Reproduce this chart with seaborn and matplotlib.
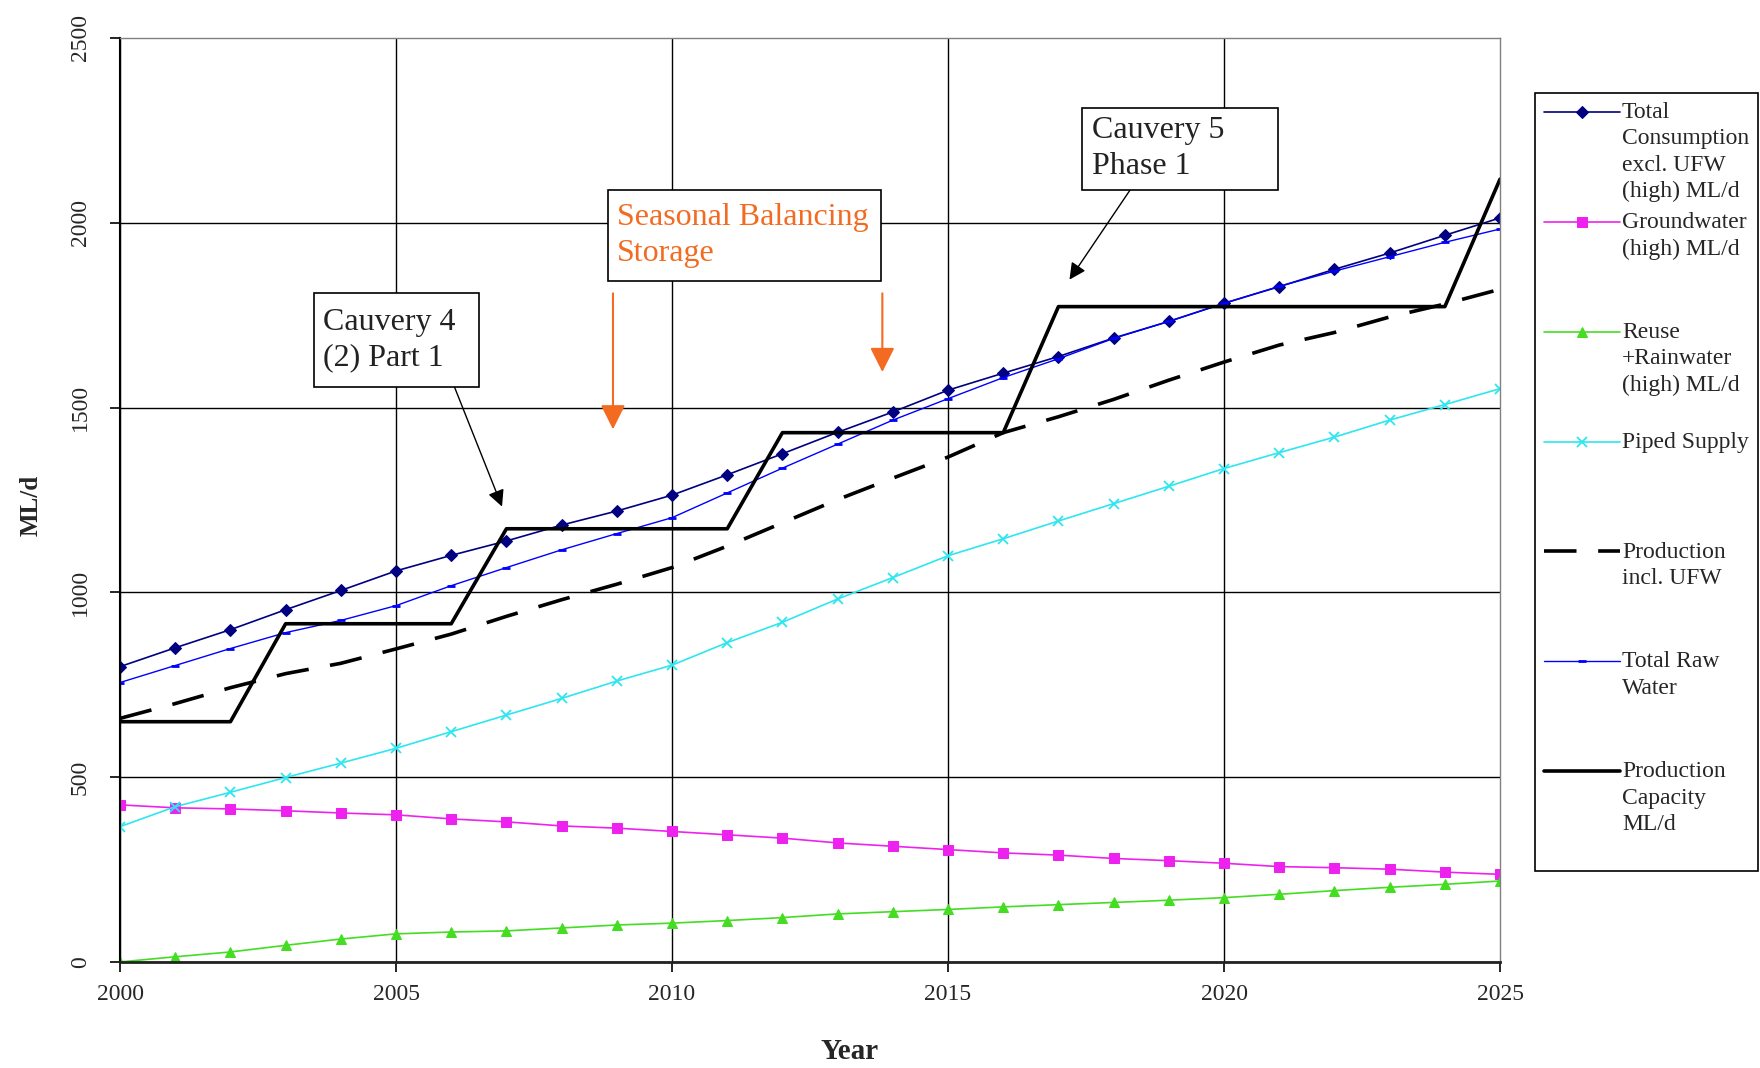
import matplotlib
matplotlib.use("Agg")
import matplotlib.pyplot as plt
from matplotlib.patches import Rectangle
import seaborn as sns

years = list(range(2000, 2026))

consumption = [799, 850, 899, 953, 1005, 1058, 1100, 1139, 1182, 1220, 1263, 1318, 1375,
               1433, 1488, 1547, 1593, 1638, 1688, 1733, 1782, 1827, 1874, 1918, 1966, 2013]
groundwater = [425, 417, 414, 409, 403, 398, 387, 379, 368, 362, 353, 344, 335,
               322, 313, 304, 295, 289, 280, 274, 267, 258, 255, 251, 243, 237]
reuse = [0, 14, 27, 45, 62, 76, 81, 84, 92, 100, 105, 112, 120,
         130, 136, 142, 149, 155, 161, 167, 174, 183, 193, 202, 210, 219]
piped = [366, 420, 459, 499, 538, 578, 623, 668, 713, 760, 803, 864, 919,
         982, 1040, 1099, 1145, 1193, 1240, 1287, 1335, 1378, 1420, 1466, 1508, 1551]
production_ufw = [659, 699, 742, 780, 808, 847, 887, 935, 980, 1022, 1067, 1125, 1188,
                  1251, 1309, 1366, 1432, 1475, 1522, 1574, 1623, 1669, 1703, 1745, 1780, 1820]
raw_water = [756, 802, 848, 891, 924, 964, 1018, 1067, 1115, 1159, 1202, 1269, 1336,
             1401, 1466, 1524, 1581, 1632, 1687, 1733, 1782, 1828, 1869, 1908, 1947, 1983]
capacity = [650, 650, 650, 915, 915, 915, 915, 1172, 1172, 1172, 1172, 1172, 1432,
            1432, 1432, 1432, 1432, 1773, 1773, 1773, 1773, 1773, 1773, 1773, 1773, 2118]

labels = ["Total\nConsumption\nexcl. UFW\n(high) ML/d",
          "Groundwater\n(high) ML/d",
          "Reuse\n+Rainwater\n(high) ML/d",
          "Piped Supply",
          "Production\nincl. UFW",
          "Total Raw\nWater",
          "Production\nCapacity\nML/d"]

orange = "#F26B21"

sns.set_theme(style="white")
plt.rcParams["font.family"] = ["Liberation Serif", "DejaVu Serif"]

fig = plt.figure(figsize=(17.6, 10.68), dpi=100)
ax = fig.add_axes([0.0682, 0.0993, 0.7841, 0.8652])

styles = [
    dict(color="#000080", lw=1.2, marker="D", ms=6.5, mec="#000080"),
    dict(color="#EE22EE", lw=1.2, marker="s", ms=7, mec="#EE22EE"),
    dict(color="#44DD22", lw=1.2, marker="^", ms=7, mec="#44DD22"),
    dict(color="#2EE6F0", lw=1.2, marker="x", ms=7, mew=1.3, mec="#2EE6F0"),
    dict(color="black", lw=2.6, linestyle=(0, (9, 6))),
    dict(color="#0000FF", lw=1.0, marker="_", ms=6, mew=2, mec="#0000FF"),
    dict(color="black", lw=2.6),
]
values = [consumption, groundwater, reuse, piped, production_ufw, raw_water, capacity]

for lab, vals, st in zip(labels, values, styles):
    sns.lineplot(x=years, y=vals, ax=ax, label=lab, **st)

handles, labs = ax.get_legend_handles_labels()
ax.get_legend().remove()

ax.set_xlim(2000, 2025)
ax.set_ylim(0, 2500)
ax.set_xticks(range(2000, 2026, 5))
ax.set_yticks(range(0, 2501, 500))

ax.grid(True, color="black", lw=1)
ax.xaxis.get_gridlines()[-1].set_visible(False)
ax.yaxis.get_gridlines()[-1].set_visible(False)

for side in ["top", "right"]:
    ax.spines[side].set_color("#808080")
    ax.spines[side].set_linewidth(1)
ax.spines["left"].set_color("black")
ax.spines["left"].set_linewidth(1.5)
ax.spines["bottom"].set_color("#222222")
ax.spines["bottom"].set_linewidth(2)

ax.tick_params(axis="both", which="major", direction="out", length=7, width=1.2,
               color="black", labelsize=17, bottom=True, left=True)
ax.tick_params(axis="y", pad=14)
ax.tick_params(axis="x", pad=9)
for t in ax.get_yticklabels():
    t.set_rotation(90)
    t.set_va("center")

ax.set_xlabel("Year", fontsize=21, fontweight="bold", va="center")
ax.xaxis.set_label_coords(0.529, -0.097)
ax.set_ylabel("ML/d", fontsize=18, fontweight="bold", va="center")
ax.yaxis.set_label_coords(-0.0645, 0.4935)

# annotation boxes (x0, x1, y_bottom, y_top) in data units
boxes = [
    ("Cauvery 4\n(2) Part 1", (2003.51, 2006.50, 1555, 1809), 2003.68, "#222222"),
    ("Seasonal Balancing\nStorage", (2008.84, 2013.79, 1842, 2088), 2009.0, orange),
    ("Cauvery 5\nPhase 1", (2017.43, 2020.97, 2089, 2311), 2017.60, "#222222"),
]
for txt, (x0, x1, y0, y1), tx, col in boxes:
    ax.add_patch(Rectangle((x0, y0), x1 - x0, y1 - y0, fc="white", ec="black",
                           lw=1.2, zorder=4))
    ax.text(tx, (y0 + y1) / 2, txt, color=col, fontsize=23, ha="left", va="center",
            linespacing=1.3, zorder=5)

arrow = dict(arrowstyle="-|>", color="black", lw=1, mutation_scale=25, shrinkA=0, shrinkB=0)
ax.annotate("", xy=(2006.92, 1232), xytext=(2006.06, 1555), arrowprops=arrow)
ax.annotate("", xy=(2017.20, 1846), xytext=(2018.30, 2089), arrowprops=arrow)
for xa, ya in [(2008.93, 1441), (2013.81, 1596)]:
    ax.annotate("", xy=(xa, ya), xytext=(xa, 1809),
                arrowprops=dict(arrowstyle="-|>,head_length=0.6,head_width=0.3", color=orange,
                                lw=1.5, mutation_scale=25, shrinkA=0, shrinkB=0))

# legend: every entry four lines tall, handle level with first line
pad_labels = [l + "\n" * (3 - l.count("\n")) for l in labs]
leg = fig.legend(handles, pad_labels, loc="upper left", bbox_to_anchor=(0.8722, 0.913),
                 frameon=True, fancybox=False, edgecolor="black", framealpha=1,
                 fontsize=17, handlelength=3.2, handleheight=1.1, handletextpad=0.1,
                 labelspacing=0.4, borderpad=0.38, borderaxespad=0)
leg.get_frame().set_linewidth(1.2)
for t in leg.get_texts():
    t.set_linespacing(1.34)
for col in leg._legend_handle_box.get_children():
    for hp in col.get_children():
        hp.align = "top"

fig.savefig("out.png", dpi=100, facecolor="white")
